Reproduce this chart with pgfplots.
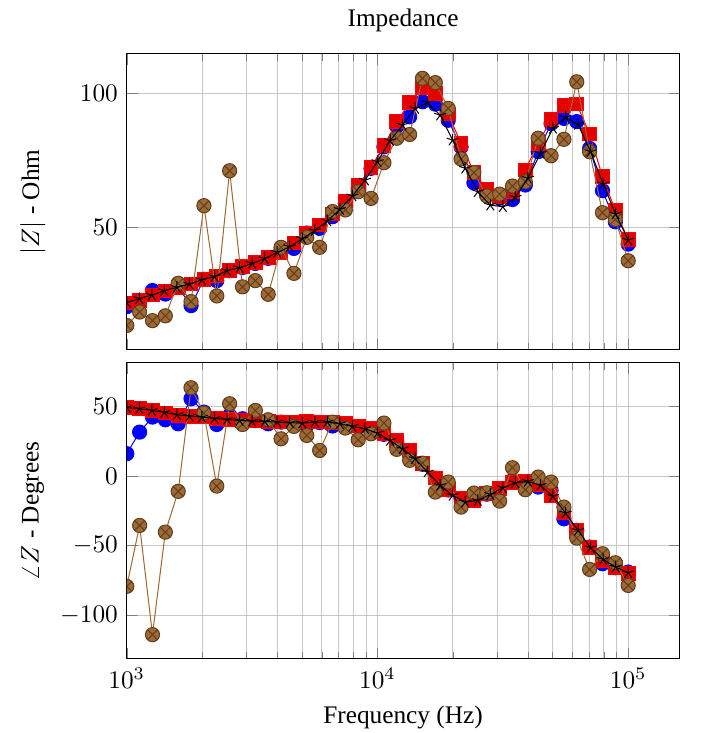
\documentclass[border=0pt]{standalone}
\usepackage{pgfplots}
\usepackage{pgfplotstable}
\pgfplotsset{compat=1.18}
\usepackage[no-math]{fontspec}
\setmainfont{Liberation Serif}
\definecolor{mybrown}{rgb}{0.62,0.41,0.2}

% blue, red, brown series: 40 log-spaced frequencies
\pgfplotstableread{
f mag ph
1000 20.6 16.1
1125.3 22.5 31.6
1266.4 26.6 42.4
1425.1 25.3 40.5
1603.7 27.8 37.6
1804.7 21.0 55.6
2031.0 30.8 46.0
2285.5 30.3 37.1
2571.9 34.0 43.6
2894.3 35.2 41.2
3257.0 36.7 40.0
3665.7 38.6 37.6
4124.6 41.7 38.8
4641.6 42.3 37.6
5223.7 48.0 36.4
5878.5 49.8 38.5
6615.2 54.1 36.0
7443.8 59.1 37.0
8376.8 64.6 35.5
9426.7 72.1 34.0
10608 80.1 30.0
11938 87.8 25.0
13436 91.3 18.0
15120 96.9 8.5
17013 96.0 -1.5
19146 90.0 -10.0
21544 80.1 -16.5
24245 66.7 -17.5
27283 62.2 -13.0
30703 61.0 -10.0
34551 60.5 -3.1
38881 65.9 -4.5
43755 78.3 -7.9
49239 88.8 -10.3
55410 90.7 -30.7
62353 89.5 -39.0
70170 79.5 -51.0
78966 63.8 -63.0
88862 52.2 -65.9
100000 43.9 -69.0
}\blueTable

\pgfplotstableread{
f mag ph
1000 22.0 49.1
1125.3 23.0 48.4
1266.4 24.9 47.2
1425.1 26.4 45.3
1603.7 27.8 43.6
1804.7 29.0 42.9
2031.0 30.8 42.4
2285.5 32.0 41.2
2571.9 34.0 40.7
2894.3 35.5 40.0
3257.0 37.0 39.5
3665.7 38.8 39.3
4124.6 40.8 38.8
4641.6 44.3 38.6
5223.7 48.0 39.0
5878.5 51.0 38.9
6615.2 55.1 38.6
7443.8 60.0 37.6
8376.8 65.6 35.9
9426.7 72.5 34.5
10608 80.5 30.4
11938 89.5 25.6
13436 96.5 18.4
15120 102.2 8.9
17013 100.0 -1.4
19146 92.3 -9.8
21544 81.4 -16.3
24245 70.5 -17.5
27283 64.3 -12.7
30703 61.5 -9.1
34551 63.4 -4.8
38881 71.5 -3.8
43755 81.4 -6.0
49239 90.3 -13.9
55410 95.4 -26.4
62353 96.0 -39.1
70170 84.9 -51.5
78966 69.0 -60.6
88862 56.3 -65.9
100000 45.7 -70.2
}\redTable

\pgfplotstableread{
f mag ph
1000 13.6 -79.3
1125.3 18.6 -35.5
1266.4 15.4 -114.0
1425.1 17.2 -40.3
1603.7 29.3 -11.0
1804.7 22.5 63.5
2031.0 58.2 45.3
2285.5 24.6 -7.2
2571.9 71.2 52.0
2894.3 28.0 37.1
3257.0 30.3 47.2
3665.7 25.2 40.5
4124.6 42.7 26.8
4641.6 33.0 35.7
5223.7 46.4 29.2
5878.5 42.7 18.4
6615.2 56.0 38.8
7443.8 56.6 34.5
8376.8 63.4 26.1
9426.7 60.9 30.4
10608 74.2 38.1
11938 83.3 19.2
13436 84.7 11.3
15120 105.6 9.3
17013 104.0 -11.5
19146 94.4 -4.3
21544 75.6 -22.3
24245 70.5 -12.2
27283 61.8 -12.0
30703 62.5 -18.0
34551 65.5 6.0
38881 67.1 -9.8
43755 83.3 -0.7
49239 76.8 -4.3
55410 82.9 -22.3
62353 104.3 -44.6
70170 78.3 -67.1
78966 55.6 -55.8
88862 53.1 -62.3
100000 37.7 -78.6
}\brownTable

% black series: 41 frequencies, 0.05 decade apart
\pgfplotstableread{
f mag ph
1000 22.1 49.3
1122.0 23.6 48.4
1258.9 24.9 47.2
1412.5 26.5 45.8
1584.9 27.8 44.1
1778.3 29.0 43.1
1995.3 30.6 42.4
2238.7 31.8 41.4
2511.9 34.0 40.7
2818.4 35.1 40.0
3162.3 36.7 39.5
3548.1 38.5 39.3
3981.1 40.8 38.8
4466.8 42.9 38.3
5011.9 45.9 38.1
5623.4 48.9 38.8
6309.6 52.5 38.8
7079.5 56.8 37.6
7943.3 61.8 35.7
8912.5 67.7 34.0
10000 74.6 30.9
11220 82.4 25.6
12589 88.2 19.6
14125 94.4 12.5
15849 96.5 2.9
17783 91.9 -6.7
19953 82.6 -13.9
22387 72.1 -18.7
25119 63.4 -17.5
28184 58.4 -13.2
31623 57.8 -8.4
35481 61.3 -4.8
39811 68.4 -3.8
44668 77.7 -6.7
50119 87.0 -14.6
56234 91.1 -26.6
63096 88.5 -39.1
70795 78.3 -51.5
79433 66.3 -59.9
89125 55.1 -65.4
100000 45.4 -69.5
}\blackTable

\begin{document}
\begin{tikzpicture}
\useasboundingbox (-50.1pt,21.3pt) rectangle (231.3pt,-268.4pt);
\begin{semilogxaxis}[name=top, at={(0pt,0pt)}, anchor=north west,
  scale only axis, width=218.4pt, height=117pt,
  xmin=1000, xmax=1.6e5, clip marker paths=true,
  xticklabels={},
  xmajorgrids, xminorgrids, ymajorgrids,
  major grid style={black!22}, minor grid style={black!22},
  ylabel style={at={(axis description cs:-0.17,0.5)}, anchor=center},
  ymin=4.5, ymax=114.7, ytick={50,100},
  title={Impedance}, title style={yshift=-1pt},
  ylabel={$|Z|$ - Ohm}]
\addplot[blue, mark=*, mark size=2.8pt, mark options={fill=blue, draw=blue}] table[x=f, y=mag] {\blueTable};
\addplot[red, mark=square*, mark size=2.7pt, mark options={fill=red!90!black, draw=red}] table[x=f, y=mag] {\redTable};
\addplot[mybrown, mark=otimes*, mark size=2.8pt, mark options={fill=mybrown, draw=mybrown!60!black}] table[x=f, y=mag] {\brownTable};
\addplot[black, mark=star, mark size=2.5pt, mark options={draw=black}] table[x=f, y=mag] {\blackTable};
\end{semilogxaxis}
\begin{semilogxaxis}[name=bot, at={(top.south west)}, anchor=north west, yshift=-5.1pt,
  scale only axis, width=218.4pt, height=117pt,
  xmin=1000, xmax=1.6e5, clip marker paths=true,
  xmajorgrids, xminorgrids, ymajorgrids,
  major grid style={black!22}, minor grid style={black!22},
  ylabel style={at={(axis description cs:-0.17,0.5)}, anchor=center},
  ymin=-131.4, ymax=81.4, ytick={-100,-50,0,50},
  xlabel={Frequency (Hz)},
  ylabel={$\angle Z$ - Degrees}]
\addplot[blue, mark=*, mark size=2.8pt, mark options={fill=blue, draw=blue}] table[x=f, y=ph] {\blueTable};
\addplot[red, mark=square*, mark size=2.7pt, mark options={fill=red!90!black, draw=red}] table[x=f, y=ph] {\redTable};
\addplot[mybrown, mark=otimes*, mark size=2.8pt, mark options={fill=mybrown, draw=mybrown!60!black}] table[x=f, y=ph] {\brownTable};
\addplot[black, mark=star, mark size=2.5pt, mark options={draw=black}] table[x=f, y=ph] {\blackTable};
\end{semilogxaxis}
\end{tikzpicture}
\end{document}
